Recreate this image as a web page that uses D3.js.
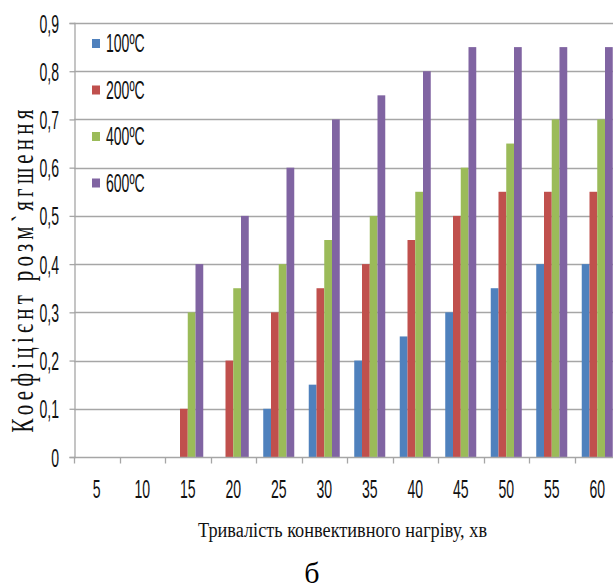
<!DOCTYPE html>
<html><head><meta charset="utf-8">
<script src="https://cdn.jsdelivr.net/npm/d3@7"></script>
<style>
html,body{margin:0;padding:0;background:#fff;}
svg{display:block;}
.tk{font-family:"Liberation Sans","Arial",sans-serif;font-size:18px;fill:#111;}
</style></head>
<body>
<svg id="c" width="613" height="588"></svg>
<script>
const categories = ["5","10","15","20","25","30","35","40","45","50","55","60"];
const seriesNames = ["100ºC","200ºC","400ºC","600ºC"];
const s100 = [0,0,0,0,0.1,0.15,0.2,0.25,0.3,0.35,0.4,0.4];
const s200 = [0,0,0.1,0.2,0.3,0.35,0.4,0.45,0.5,0.55,0.55,0.55];
const s400 = [0,0,0.3,0.35,0.4,0.45,0.5,0.55,0.6,0.65,0.7,0.7];
const s600 = [0,0,0.4,0.5,0.6,0.7,0.75,0.8,0.85,0.85,0.85,0.85];
const yTicks = [0,0.1,0.2,0.3,0.4,0.5,0.6,0.7,0.8,0.9];
const colors = ["#4F81BD","#C0504D","#9BBB59","#8064A2"];
const seriesVals = [s100,s200,s400,s600];

const svg = d3.select("#c");
const mLeft = 74, catW = 45.5, mTop = 23, mBottom = 457;
const narrow = "scale(0.78,1.4)";
const x0 = d3.scaleBand().domain(categories).range([mLeft, mLeft + catW*categories.length]).padding(0);
const x1 = d3.scaleBand().domain(seriesNames).range([0, x0.bandwidth()]).paddingInner(0).paddingOuter(0.935);
const y = d3.scaleLinear().domain([0,0.9]).range([mBottom, mTop]);

// gridlines
svg.append("g").selectAll("line").data(yTicks.filter(d=>d>0)).join("line")
  .attr("x1", mLeft).attr("x2", 613)
  .attr("y1", d=>Math.round(y(d))+0.5).attr("y2", d=>Math.round(y(d))+0.5)
  .attr("stroke","#a6a6a6").attr("stroke-width",1.3);

// bars
const g = svg.append("g");
seriesVals.forEach((vals,si)=>{
  g.selectAll(null).data(vals.map((v,i)=>({c:categories[i],v})).filter(d=>d.v>0)).join("rect")
    .attr("x", d=>x0(d.c)+x1(seriesNames[si]))
    .attr("width", x1.bandwidth())
    .attr("y", d=>y(d.v))
    .attr("height", d=>y(0)-y(d.v))
    .attr("fill", colors[si]);
});

// y axis
const yAxis = d3.axisLeft(y).tickValues(yTicks).tickSize(5).tickPadding(10)
  .tickFormat(d=> d===0 ? "0" : d3.format(".1f")(d).replace(".",","));
const ya = svg.append("g").attr("transform",`translate(${mLeft+0.5},0)`).call(yAxis);
ya.select(".domain").attr("stroke","#a6a6a6").attr("stroke-width",1.3);
ya.selectAll(".tick line").attr("stroke","#a6a6a6").attr("stroke-width",1.3);
ya.attr("font-size",null).attr("font-family",null);
ya.selectAll(".tick text").attr("class","tk").attr("fill",null)
  .attr("x",0).attr("dy",null).attr("transform",`translate(-15.5,9) ${narrow}`);

// x axis
const xa = svg.append("g").attr("transform",`translate(0,${mBottom+0.5})`);
xa.append("line").attr("x1",mLeft).attr("x2",613).attr("stroke","#a6a6a6").attr("stroke-width",1.3);
const bounds = categories.map(c=>x0(c)).concat([x0(categories[categories.length-1])+catW]);
xa.selectAll(".xt").data(bounds).join("line").attr("class","xt")
  .attr("x1",d=>Math.round(d)+0.5).attr("x2",d=>Math.round(d)+0.5).attr("y1",0).attr("y2",6)
  .attr("stroke","#a6a6a6").attr("stroke-width",1.3);
xa.selectAll(".xl").data(categories).join("text").attr("class","tk xl")
  .attr("transform",d=>`translate(${x0(d)+x0.bandwidth()/2},40.5) ${narrow}`)
  .attr("text-anchor","middle").text(d=>d);

// legend
const leg = svg.append("g");
seriesNames.forEach((n,i)=>{
  const ly = 43.5 + i*46.5;
  leg.append("rect").attr("x",92).attr("y",ly-4.5).attr("width",8).attr("height",9).attr("fill",colors[i]);
  leg.append("text").attr("class","tk").attr("transform",`translate(106,${ly+8.5}) ${narrow}`).text(n);
});

// axis titles
svg.append("text").attr("transform","translate(33,271) rotate(-90) scale(1,1.5)")
  .attr("text-anchor","middle").attr("font-family","'Liberation Serif','DejaVu Serif',serif")
  .attr("font-size",21).attr("fill","#111")
  .attr("textLength",323).attr("lengthAdjust","spacing")
  .text("Коефіцієнт  розм`ягшення");
svg.append("text").attr("transform","translate(342.5,537) scale(1,1.35)").attr("text-anchor","middle")
  .attr("font-family","'Liberation Serif','DejaVu Serif',serif").attr("font-size",16).attr("fill","#111")
  .attr("textLength",289).attr("lengthAdjust","spacingAndGlyphs")
  .text("Тривалість конвективного нагріву, хв");
svg.append("text").attr("x",312).attr("y",583).attr("text-anchor","middle")
  .attr("font-family","'Liberation Serif','DejaVu Serif',serif").attr("font-size",30).attr("fill","#000")
  .text("б");
</script>
</body></html>
